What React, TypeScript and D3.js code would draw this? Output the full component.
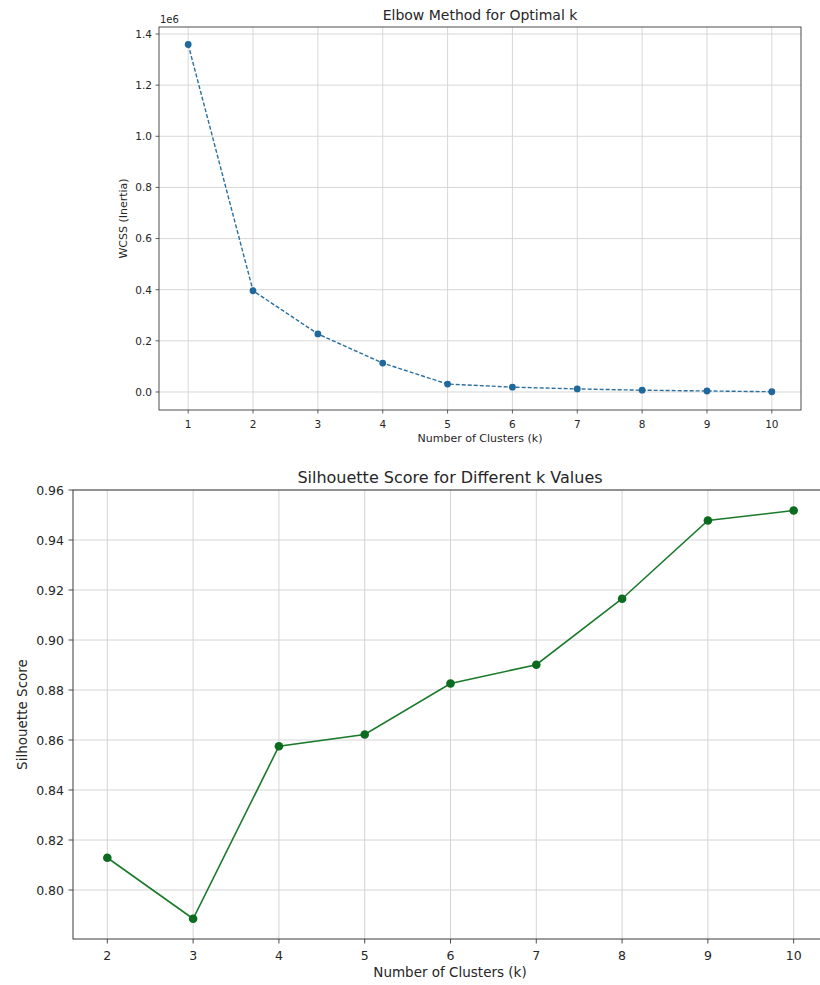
import React from "react";
import * as d3 from "d3";

const kElbow = [1, 2, 3, 4, 5, 6, 7, 8, 9, 10];
const wcss = [1.359, 0.396, 0.227, 0.113, 0.031, 0.019, 0.012, 0.007, 0.004, 0.001];
const elbowYTicks = [0.0, 0.2, 0.4, 0.6, 0.8, 1.0, 1.2, 1.4];

const kSil = [2, 3, 4, 5, 6, 7, 8, 9, 10];
const silhouette = [0.8129, 0.7885, 0.8575, 0.8622, 0.8826, 0.8901, 0.9165, 0.9478, 0.9518];
const silYTicks = [0.8, 0.82, 0.84, 0.86, 0.88, 0.9, 0.92, 0.94, 0.96];

const FONT = "DejaVu Sans, sans-serif";

export default function App() {
  // top chart
  const t = { l: 159, r: 801, t: 27, b: 410 };
  const x1 = d3.scaleLinear().domain([0.55, 10.45]).range([t.l, t.r]);
  const y1 = d3.scaleLinear().domain([-0.0704, 1.4274]).range([t.b, t.t]);
  const line1 = d3.line<number>().x((_, i) => x1(kElbow[i])).y((d) => y1(d));

  // bottom chart
  const s = { l: 73, r: 828, t: 490, b: 939 };
  const x2 = d3.scaleLinear().domain([1.6, 10.4]).range([s.l, s.r]);
  const y2 = d3.scaleLinear().domain([0.7804, 0.96]).range([s.b, s.t]);
  const line2 = d3.line<number>().x((_, i) => x2(kSil[i])).y((d) => y2(d));

  const grid = "#d4d4d4";
  const spine = "#3a3a3a";
  const txt = "#262626";

  return (
    <svg width={820} height={985} style={{ position: "absolute", left: 0, top: 0, background: "#fff" }} fontFamily={FONT}>
      <rect x={0} y={0} width={820} height={985} fill="#fff" />
      {/* ---------- Top chart ---------- */}
      <g>
        {kElbow.map((k) => (
          <line key={"gx" + k} x1={x1(k)} x2={x1(k)} y1={t.t} y2={t.b} stroke={grid} strokeWidth={0.9} />
        ))}
        {elbowYTicks.map((v) => (
          <line key={"gy" + v} x1={t.l} x2={t.r} y1={y1(v)} y2={y1(v)} stroke={grid} strokeWidth={0.9} />
        ))}
        <path d={line1(wcss) || ""} fill="none" stroke="#2a6f9f" strokeWidth={1.4} strokeDasharray="4,2" />
        {wcss.map((v, i) => (
          <circle key={"m1" + i} cx={x1(kElbow[i])} cy={y1(v)} r={3.4} fill="#1f689c" />
        ))}
        <rect x={t.l} y={t.t} width={t.r - t.l} height={t.b - t.t} fill="none" stroke={spine} strokeWidth={0.9} />
        {kElbow.map((k) => (
          <g key={"tx" + k}>
            <line x1={x1(k)} x2={x1(k)} y1={t.b} y2={t.b + 3.5} stroke={spine} strokeWidth={0.8} />
            <text x={x1(k)} y={t.b + 18} fontSize={10.5} textAnchor="middle" fill={txt}>{k}</text>
          </g>
        ))}
        {elbowYTicks.map((v) => (
          <g key={"ty" + v}>
            <line x1={t.l - 3.5} x2={t.l} y1={y1(v)} y2={y1(v)} stroke={spine} strokeWidth={0.8} />
            <text x={t.l - 7} y={y1(v) + 3.8} fontSize={10.5} textAnchor="end" fill={txt}>{v.toFixed(1)}</text>
          </g>
        ))}
        <text x={t.l + 1} y={t.t - 4} fontSize={10} fill={txt}>1e6</text>
        <text x={(t.l + t.r) / 2} y={t.t - 7} fontSize={14} textAnchor="middle" fill={txt}>Elbow Method for Optimal k</text>
        <text x={(t.l + t.r) / 2} y={t.b + 32} fontSize={11} textAnchor="middle" fill={txt}>Number of Clusters (k)</text>
        <text transform={`translate(${127},${(t.t + t.b) / 2}) rotate(-90)`} fontSize={11} textAnchor="middle" fill={txt}>WCSS (Inertia)</text>
      </g>

      {/* ---------- Bottom chart ---------- */}
      <g>
        {kSil.map((k) => (
          <line key={"gx2" + k} x1={x2(k)} x2={x2(k)} y1={s.t} y2={s.b} stroke={grid} strokeWidth={1} />
        ))}
        {silYTicks.map((v) => (
          <line key={"gy2" + v} x1={s.l} x2={s.r} y1={y2(v)} y2={y2(v)} stroke={grid} strokeWidth={1} />
        ))}
        <path d={line2(silhouette) || ""} fill="none" stroke="#1a7a2a" strokeWidth={1.6} />
        {silhouette.map((v, i) => (
          <circle key={"m2" + i} cx={x2(kSil[i])} cy={y2(v)} r={4.3} fill="#0b6b1f" />
        ))}
        <rect x={s.l} y={s.t} width={s.r - s.l} height={s.b - s.t} fill="none" stroke={spine} strokeWidth={1} />
        {kSil.map((k) => (
          <g key={"tx2" + k}>
            <line x1={x2(k)} x2={x2(k)} y1={s.b} y2={s.b + 4.5} stroke={spine} strokeWidth={0.9} />
            <text x={x2(k)} y={s.b + 21} fontSize={12.5} textAnchor="middle" fill={txt}>{k}</text>
          </g>
        ))}
        {silYTicks.map((v) => (
          <g key={"ty2" + v}>
            <line x1={s.l - 4.5} x2={s.l} y1={y2(v)} y2={y2(v)} stroke={spine} strokeWidth={0.9} />
            <text x={s.l - 9} y={y2(v) + 4.5} fontSize={12.5} textAnchor="end" fill={txt}>{v.toFixed(2)}</text>
          </g>
        ))}
        <text x={450} y={s.t - 7} fontSize={16} textAnchor="middle" fill={txt}>Silhouette Score for Different k Values</text>
        <text x={450} y={s.b + 38} fontSize={13.5} textAnchor="middle" fill={txt}>Number of Clusters (k)</text>
        <text transform={`translate(${27},${(s.t + s.b) / 2}) rotate(-90)`} fontSize={13.5} textAnchor="middle" fill={txt}>Silhouette Score</text>
      </g>
    </svg>
  );
}
